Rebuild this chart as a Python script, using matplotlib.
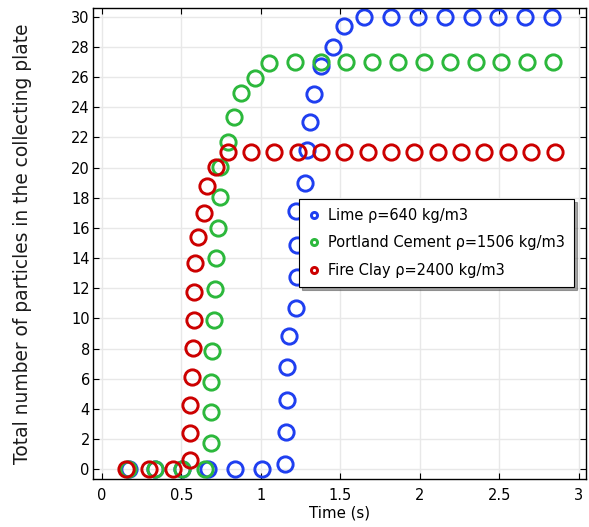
import matplotlib
matplotlib.use("Agg")
import matplotlib.pyplot as plt

# Lime rho=640 kg/m3
lime_t = [0.17, 0.334, 0.502, 0.669, 0.836, 1.01, 1.15, 1.157, 1.164, 1.167, 1.177,
          1.223, 1.227, 1.227, 1.223, 1.28, 1.292, 1.311, 1.334, 1.38, 1.453, 1.522,
          1.652, 1.819, 1.986, 2.158, 2.327, 2.494, 2.662, 2.833]
lime_n = [0, 0, 0, 0, 0, 0, 0.35, 2.5, 4.6, 6.8, 8.85,
          10.67, 12.76, 14.86, 17.1, 19.0, 21.16, 23.04, 24.9, 26.7, 27.97, 29.38,
          30, 30, 30, 30, 30, 30, 30, 30]

# Portland Cement rho=1506 kg/m3
cement_t = [0.163, 0.333, 0.505, 0.652, 0.684, 0.69, 0.69, 0.696, 0.706, 0.711, 0.717,
            0.732, 0.742, 0.746, 0.794, 0.83, 0.874, 0.966, 1.051, 1.213, 1.376,
            1.537, 1.7, 1.861, 2.028, 2.19, 2.352, 2.509, 2.672, 2.838]
cement_n = [0, 0, 0, 0, 1.72, 3.82, 5.8, 7.86, 9.89, 11.93, 13.98,
            15.97, 18.02, 20.05, 21.71, 23.33, 24.96, 25.91, 26.95, 27, 27,
            27, 27, 27, 27, 27, 27, 27, 27, 27]

# Fire Clay rho=2400 kg/m3
clay_t = [0.152, 0.297, 0.445, 0.554, 0.554, 0.558, 0.565, 0.571, 0.581, 0.581,
          0.587, 0.608, 0.642, 0.659, 0.717, 0.794, 0.937, 1.083, 1.232, 1.378,
          1.526, 1.673, 1.82, 1.966, 2.112, 2.26, 2.405, 2.552, 2.70, 2.85]
clay_n = [0, 0, 0, 0.6, 2.39, 4.26, 6.14, 8.02, 9.89, 11.77,
          13.65, 15.41, 17.0, 18.8, 20.05, 21, 21, 21, 21, 21,
          21, 21, 21, 21, 21, 21, 21, 21, 21, 21]

series = [
    (lime_t, lime_n, "#1f3ff0", "Lime \u03c1=640 kg/m3"),
    (cement_t, cement_n, "#2cb83c", "Portland Cement \u03c1=1506 kg/m3"),
    (clay_t, clay_n, "#cc0000", "Fire Clay \u03c1=2400 kg/m3"),
]

x_ticks = [0, 0.5, 1, 1.5, 2, 2.5, 3]
x_ticklabels = ["0", "0.5", "1", "1.5", "2", "2.5", "3"]
y_ticks = list(range(0, 31, 2))

plt.rcParams['font.family'] = ['DejaVu Sans']
fig = plt.figure(figsize=(5.89, 5.27), dpi=100)
ax = fig.add_axes([0.1584, 0.0905, 0.8366, 0.8943])

for t, n, c, lab in series:
    ax.plot(t, n, linestyle='none', marker='o', markersize=11,
            markerfacecolor='none', markeredgecolor=c, markeredgewidth=2.1, label=lab)

ax.set_xlim(-0.053, 3.045)
ax.set_ylim(-0.66, 30.57)
ax.set_xticks(x_ticks)
ax.set_xticklabels(x_ticklabels)
ax.set_yticks(y_ticks)
ax.tick_params(direction='in', top=True, right=True, labelsize=10.5,
               length=4, width=0.8, colors='black')
ax.tick_params(axis='x', pad=6)
ax.tick_params(axis='y', pad=2.5)
ax.grid(True, color='#e8e8e8', linewidth=1.0)
ax.set_axisbelow(True)
for s in ax.spines.values():
    s.set_linewidth(1.0)
    s.set_color('black')

ax.set_xlabel("Time (s)", fontsize=10.8, labelpad=2)
ax.set_ylabel("Total number of particles in the collecting plate", fontsize=13.4,
              labelpad=28, color='#1a1a1a')

leg = ax.legend(loc='upper left', bbox_to_anchor=(0.418, 0.595), fontsize=10.5,
                markerscale=0.4, frameon=True, fancybox=False, shadow=True,
                edgecolor='black', handlelength=0.8, handletextpad=0.6,
                borderpad=0.6, labelspacing=0.88, borderaxespad=0)
leg.get_frame().set_linewidth(0.8)

fig.savefig("out.png", dpi=100)
